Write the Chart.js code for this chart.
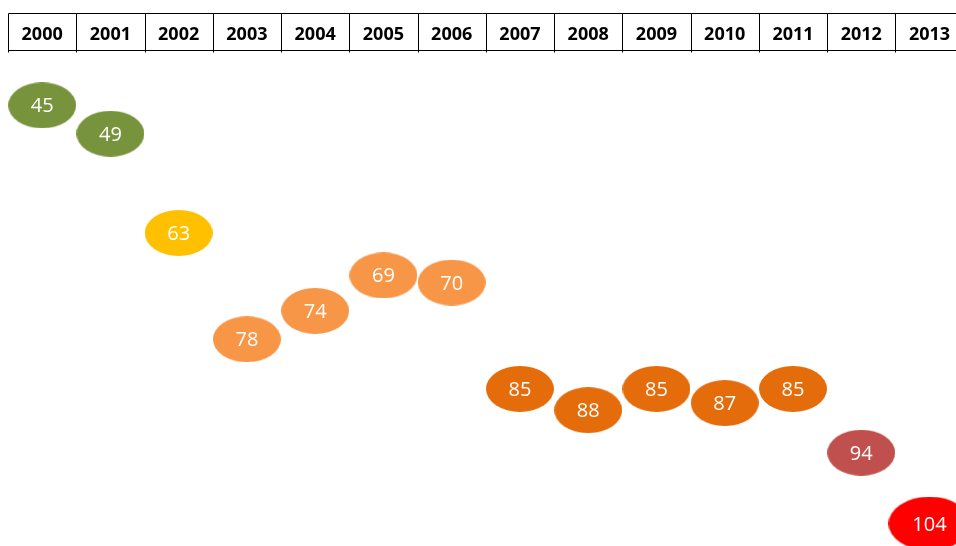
<!DOCTYPE html>
<html>
<head>
<meta charset="utf-8">
<script src="https://cdn.jsdelivr.net/npm/chart.js@4/dist/chart.umd.min.js"></script>
<style>
  html, body { margin: 0; padding: 0; background: #fff; overflow: hidden; }
  #wrap { position: relative; width: 956px; height: 546px; }
</style>
</head>
<body>
<div id="wrap"><canvas id="bubbleChart"></canvas></div>
<script>
const years = ['2000', '2001', '2002', '2003', '2004', '2005', '2006', '2007', '2008', '2009', '2010', '2011', '2012', '2013'];
const values = [45, 49, 63, 78, 74, 69, 70, 85, 88, 85, 87, 85, 94, 104];

// fill colours per bubble (styling only)
const pointColors = [
  '#77933C', '#77933C', '#FFC000', '#F79646', '#F79646', '#F79646', '#F79646',
  '#E46C0A', '#E46C0A', '#E46C0A', '#E46C0A', '#E46C0A', '#C0504D', '#FF0000'
];

const makeEllipse = (color, rx, ry) => {
  const c = document.createElement('canvas');
  c.width = rx * 2;
  c.height = ry * 2;
  const g = c.getContext('2d');
  g.fillStyle = color;
  g.beginPath();
  g.ellipse(rx, ry, rx, ry, 0, 0, Math.PI * 2);
  g.fill();
  return c;
};

const ellipses = values.map((v, i) =>
  v > 100 ? makeEllipse(pointColors[i], 41, 27) : makeEllipse(pointColors[i], 34, 23)
);

const headerPlugin = {
  id: 'yearHeader',
  afterDraw: (chart) => {
    const ctx = chart.ctx;
    const x = chart.scales.x;
    const top = 13.5, bottom = 50.5;
    ctx.save();
    ctx.strokeStyle = '#000';
    ctx.lineWidth = 1;
    const left = Math.round(x.getPixelForValue(-0.5)) + 0.5;
    const right = x.getPixelForValue(years.length - 0.5);
    ctx.beginPath();
    ctx.moveTo(left, top); ctx.lineTo(right, top);
    ctx.moveTo(left, bottom); ctx.lineTo(right, bottom);
    for (let i = 0; i <= years.length; i++) {
      const px = Math.round(x.getPixelForValue(i - 0.5)) + 0.5;
      ctx.moveTo(px, top); ctx.lineTo(px, bottom + 2);
    }
    ctx.stroke();
    ctx.fillStyle = '#000';
    ctx.font = 'bold 18px "Open Sans"';
    ctx.textAlign = 'center';
    ctx.textBaseline = 'alphabetic';
    years.forEach((y, i) => {
      ctx.fillText(y, x.getPixelForValue(i), 40);
    });
    ctx.restore();
  }
};

const labelPlugin = {
  id: 'bubbleLabels',
  afterDatasetsDraw: (chart) => {
    const ctx = chart.ctx;
    const meta = chart.getDatasetMeta(0);
    ctx.save();
    ctx.fillStyle = '#fff';
    ctx.font = '20px "Open Sans"';
    ctx.textAlign = 'center';
    ctx.textBaseline = 'alphabetic';
    meta.data.forEach((pt, i) => {
      ctx.fillText(String(values[i]), pt.x, pt.y + 7);
    });
    ctx.restore();
  }
};

const renderChart = () => {
  const el = document.getElementById('bubbleChart');
  new Chart(el, {
    type: 'scatter',
    data: {
      datasets: [{
        data: values.map((v, i) => ({ x: i, y: v })),
        pointStyle: (ctx) => ellipses[ctx.dataIndex],
        backgroundColor: pointColors,
        borderWidth: 0,
        clip: false
      }]
    },
    options: {
      responsive: true,
      maintainAspectRatio: false,
      animation: false,
      layout: { padding: { left: 8, right: 0, top: 0, bottom: 0 } },
      plugins: {
        legend: { display: false },
        tooltip: { enabled: false }
      },
      scales: {
        x: { type: 'linear', display: false, min: -0.5, max: 13.33 },
        y: { type: 'linear', display: false, reverse: true, min: 30.7, max: 106.6 }
      }
    },
    plugins: [headerPlugin, labelPlugin]
  });
};

document.addEventListener('DOMContentLoaded', () => {
  renderChart();
});
</script>
</body>
</html>
